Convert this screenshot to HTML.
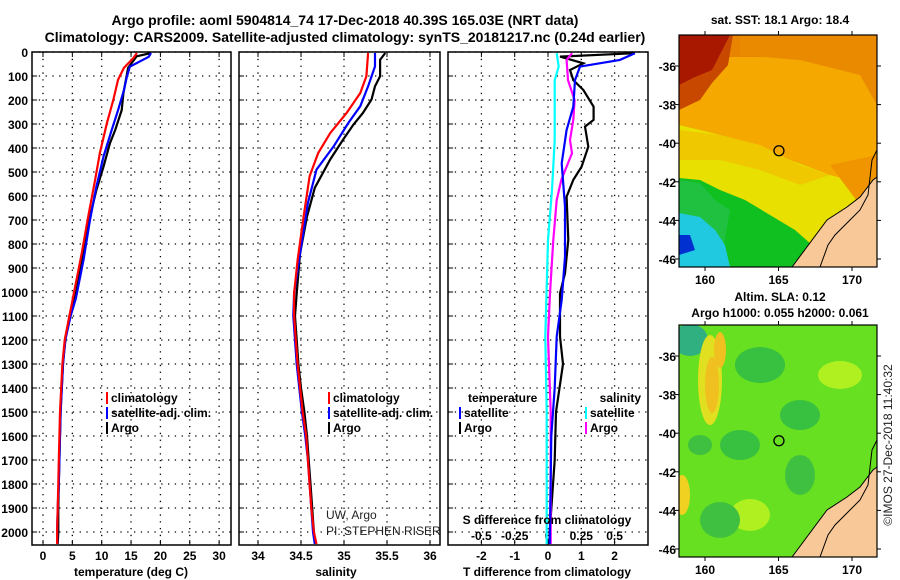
<!DOCTYPE html>
<html><head><meta charset="utf-8">
<style>
html,body{margin:0;padding:0;background:#fff;}
svg{display:block;font-family:"Liberation Sans",sans-serif;}
.b{font-weight:bold;font-size:12px;fill:#000;}
.t{font-weight:bold;font-size:14px;fill:#000;}
.n{font-weight:normal;font-size:12px;fill:#222;}
</style></head><body>
<svg id="chart" width="900" height="580" viewBox="0 0 900 580" xmlns="http://www.w3.org/2000/svg">
<text class="t" x="345" y="25" text-anchor="middle">Argo profile: aoml 5904814_74 17-Dec-2018 40.39S 165.03E (NRT data)</text>
<text class="t" x="345" y="42" text-anchor="middle">Climatology: CARS2009. Satellite-adjusted climatology: synTS_20181217.nc (0.24d earlier)</text>
<g id="plots"></g>
<g id="maps"></g>
</svg>
<script>
// ---- data ----
const tempArgoDepth=[4,18,66,172,242,325,381,478,575,686,839,992,1100,1200,1300,1400,1500,1600,1700,1800,1900,2000,2050];
const tempArgo=[18.4,15.95,14.5,13.7,13.4,12.3,11.4,10.3,9.1,8.0,6.9,5.7,4.5,3.8,3.4,3.2,3.0,2.9,2.8,2.7,2.6,2.6,2.5];
const tempClimDepth=[4,25,66,115,198,295,420,531,686,839,1026,1100,1200,1300,1400,1500,1600,1700,1800,1900,2000,2050];
const tempClim=[16.0,15.4,13.8,12.8,12.0,10.9,9.7,8.9,7.7,6.6,5.1,4.5,3.7,3.3,3.1,2.9,2.8,2.7,2.6,2.5,2.4,2.4];
const tempSatDepth=[4,20,61,103,158,242,325,436,561,700,867,1026,1100,1200,1300,1400,1500,1600,1700,1800,1900,2000,2050];
const tempSat=[18.4,18.0,14.8,14.3,13.8,12.8,11.7,10.3,9.1,8.0,6.9,5.6,4.7,3.8,3.4,3.2,3.0,2.9,2.8,2.7,2.5,2.4,2.4];
const salArgoDepth=[4,32,101,143,198,254,302,365,448,566,686,839,1006,1100,1200,1300,1400,1500,1600,1700,1800,1900,2000,2050];
const salArgo=[35.48,35.42,35.42,35.36,35.32,35.22,35.11,34.99,34.84,34.66,34.57,34.49,34.45,34.43,34.45,34.47,34.5,34.54,34.57,34.59,34.61,34.63,34.65,34.67];
const salClimDepth=[4,101,171,254,338,421,518,686,867,1006,1100,1200,1300,1400,1500,1600,1700,1800,1900,2000,2050];
const salClim=[35.28,35.26,35.19,35.03,34.84,34.70,34.60,34.53,34.46,34.42,34.42,34.44,34.46,34.49,34.52,34.56,34.58,34.6,34.62,34.65,34.68];
const salSatDepth=[4,60,143,226,296,393,490,629,839,1006,1100,1200,1300,1400,1500,1600,1700,1800,1900,2000,2050];
const salSat=[35.36,35.36,35.28,35.19,35.05,34.88,34.68,34.58,34.49,34.42,34.41,34.43,34.45,34.48,34.51,34.55,34.58,34.6,34.62,34.64,34.66];
const dTArgoDepth=[5,19,47,75,117,158,228,283,311,394,478,533,603,783,922,1006,1186,1300,1500,1700,2000,2050];
const dTArgo=[2.61,0.36,1.06,0.66,0.76,1.06,1.37,1.37,1.11,1.21,1.01,0.76,0.56,0.61,0.51,0.36,0.36,0.45,0.24,0.2,0.05,0.05];
const dTSatDepth=[5,33,61,117,228,325,464,644,853,1033,1186,1400,1600,2050];
const dTSat=[2.61,2.16,0.96,0.81,0.76,0.56,0.41,0.51,0.51,0.41,0.26,0.2,0.1,0.05];
const dSArgoDepth=[5,33,117,200,283,367,422,533,617,783,1006,1186,1500,2050];
const dSArgo=[0.18,0.14,0.15,0.20,0.19,0.165,0.18,0.10,0.065,0.04,0.015,0.0,0.02,0.02];
const dSSatDepth=[5,61,117,367,575,783,1186,1500,2050];
const dSSat=[0.065,0.08,0.05,0.05,0.03,0.0,-0.02,-0.01,-0.01];
const depthTicks=[0,100,200,300,400,500,600,700,800,900,1000,1100,1200,1300,1400,1500,1600,1700,1800,1900,2000];
const tempTicks=[0,5,10,15,20,25,30];
const salTicks=[34,34.5,35,35.5,36];
const salTickLabels=["34","34.5","35","35.5","36"];
const dTTicks=[-2,-1,0,1,2];
const dSTicks=[-0.5,-0.25,0,0.25,0.5];
const dSTickLabels=["-0.5","-0.25","0","0.25","0.5"];
const latTicks=[-36,-38,-40,-42,-44,-46];
const lonTicks=[160,165,170];
const argoLon=165.03, argoLat=-40.39;

// ---- scales ----
const yTop=52,yBot=545;
const yD=d=>yTop+d*0.24;
const xT=v=>43+5.87*v;
const xS=v=>258+86*(v-34);
const xDT=v=>548+33.3*v;
const xDS=v=>548+33.3*4*v;
const NS="http://www.w3.org/2000/svg";
const plots=document.getElementById('plots');
const maps=document.getElementById('maps');
function mk(tag,attrs,parent){const e=document.createElementNS(NS,tag);for(const k in attrs)e.setAttribute(k,attrs[k]);(parent||plots).appendChild(e);return e;}
function txt(s,x,y,cls,anchor,parent){const e=mk('text',{x:x,y:y,'class':cls||'b','text-anchor':anchor||'middle'},parent);e.textContent=s;return e;}

const panels=[[32,231,'temperature-panel'],[239,440,'salinity-panel'],[448,648,'difference-panel']];
panels.forEach(p=>{
  const g=mk('g',{});
  
  
  depthTicks.forEach(d=>{
    const l=mk('line',{x1:p[0],x2:p[1],y1:yD(d),y2:yD(d),stroke:'#000','stroke-width':1.3,'stroke-dasharray':'1.3 5.5'},g);
    
    
    mk('line',{x1:p[0],x2:p[0]+5,y1:yD(d),y2:yD(d),stroke:'#000'},g);
  });
});
function vgrid(xs,p){xs.forEach(x=>{
  const l=mk('line',{x1:x,x2:x,y1:yTop,y2:yBot,stroke:'#000','stroke-width':1.3,'stroke-dasharray':'1.3 5.5'});
  
  
  mk('line',{x1:x,x2:x,y1:yBot,y2:yBot-5,stroke:'#000'});
  mk('line',{x1:x,x2:x,y1:yTop,y2:yTop+5,stroke:'#000'});
});}
vgrid(tempTicks.map(xT));vgrid(salTicks.map(xS));vgrid(dTTicks.map(xDT));

depthTicks.forEach(d=>{const t=txt(String(d),28,yD(d)+5,'b','end');

});
tempTicks.forEach(v=>{const t=txt(String(v),xT(v),560);

});
salTicks.forEach((v,i)=>{const t=txt(salTickLabels[i],xS(v),560);

});
dTTicks.forEach(v=>{const t=txt(String(v),xDT(v),560);

});
dSTicks.forEach((v,i)=>{const t=txt(dSTickLabels[i],xDS(v),540);

});

function line(xs,ds,xf,color,name){
  const pts=xs.map((v,i)=>xf(v).toFixed(1)+','+yD(ds[i]).toFixed(1)).join(' ');
  const l=mk('polyline',{points:pts,fill:'none',stroke:color,'stroke-width':2.2});
  
  
}
line(tempArgo,tempArgoDepth,xT,'#000','temp-argo-line');
line(tempSat,tempSatDepth,xT,'#0000ff','temp-satellite-line');
line(tempClim,tempClimDepth,xT,'#ff0000','temp-climatology-line');
line(salArgo,salArgoDepth,xS,'#000','salinity-argo-line');
line(salSat,salSatDepth,xS,'#0000ff','salinity-satellite-line');
line(salClim,salClimDepth,xS,'#ff0000','salinity-climatology-line');
line(dSSat,dSSatDepth,xDS,'#00ffff','s-diff-satellite-line');
line(dTArgo,dTArgoDepth,xDT,'#000','t-diff-argo-line');
line(dSArgo,dSArgoDepth,xDS,'#ff00ff','s-diff-argo-line');
line(dTSat,dTSatDepth,xDT,'#0000ff','t-diff-satellite-line');

panels.forEach(p=>{const r=mk('rect',{x:p[0],y:yTop,width:p[1]-p[0],height:yBot-yTop,fill:'none',stroke:'#000','stroke-width':1.5});

});

function legend(x,y,color,label,name){
  const g=mk('g',{});
  
  
  mk('rect',{x:x,y:y-10,width:2,height:12,fill:color},g);
  txt(label,x+5,y,'b','start',g);
}
legend(106,402,'#ff0000','climatology','legend-climatology');
legend(106,417,'#0000ff','satellite-adj. clim.','legend-satellite');
legend(106,432,'#000','Argo','legend-argo');
legend(328,402,'#ff0000','climatology','legend-sal-climatology');
legend(328,417,'#0000ff','satellite-adj. clim.','legend-sal-satellite');
legend(328,432,'#000','Argo','legend-sal-argo');
txt('temperature',468,402,'b','start');
legend(459,417,'#0000ff','satellite','legend-t-satellite');
legend(459,432,'#000','Argo','legend-t-argo');
txt('salinity',641,402,'b','end');
legend(585,417,'#00ffff','satellite','legend-s-satellite');
legend(585,432,'#ff00ff','Argo','legend-s-argo');
txt('S difference from climatology',547,524);
txt('temperature (deg C)',131,576);
txt('salinity',336,576);
txt('T difference from climatology',547,576);
txt('UW, Argo',326,519,'n','start');
txt('PI: STEPHEN RISER',326,535,'n','start');

// ---- maps ----
const mapL=679,mapR=877;
const lx=lon=>705+14.7*(lon-160);
function drawMap(top,bot,yLat,kind,titles){
  const g=mk('g',{},maps);
  
  
  const cid='clip'+kind;
  const cp=mk('clipPath',{id:cid},g);mk('rect',{x:mapL,y:top,width:mapR-mapL,height:bot-top},cp);
  const c=mk('g',{'clip-path':'url(#'+cid+')'},g);
  const P=(pts,fill)=>mk('polygon',{points:pts.map(p=>p[0]+','+(top+p[1])).join(' '),fill:fill},c);
  const E=(cx,cy,rx,ry,fill)=>mk('ellipse',{cx:cx,cy:top+cy,rx:rx,ry:ry,fill:fill},c);
  if(kind==='sst'){
    mk('rect',{x:mapL,y:top,width:200,height:bot-top,fill:'#f4a800'},c);
    mk('rect',{x:mapL,y:top,width:200,height:22,fill:'#e88400'},c);
    P([[740,0],[877,0],[877,70],[860,40],[800,25],[740,20]],'#ea8a00');
    P([[679,0],[733,0],[728,30],[712,48],[700,65],[679,75]],'#c84800');
    P([[679,0],[730,0],[712,35],[695,42],[679,50]],'#a81800');
    P([[679,90],[700,95],[740,105],[790,125],[830,140],[860,148],[877,140],[877,232],[679,232]],'#e8e000');
    P([[679,95],[720,100],[760,110],[800,130],[830,140],[800,150],[760,135],[720,125],[679,125]],'#f0c800');
    P([[830,130],[877,120],[877,160],[860,170],[845,150]],'#f09400');
    P([[679,143],[700,145],[720,155],[745,165],[770,180],[795,195],[812,210],[800,232],[679,232]],'#10c020');
    P([[679,145],[700,148],[715,165],[730,175],[720,232],[679,232]],'#20c040');
    P([[679,178],[700,182],[715,195],[725,210],[730,232],[679,232]],'#20c8e0');
    P([[679,200],[690,200],[695,215],[679,220]],'#0030d0');
    P([[860,200],[877,190],[877,232],[855,232]],'#10b040');
    P([[866,215],[877,210],[877,232],[860,232]],'#2040d0');
  } else {
    mk('rect',{x:mapL,y:top,width:200,height:bot-top,fill:'#66e020'},c);
    E(690,15,18,16,'#30b080');
    E(760,40,25,18,'#38c040');E(740,120,20,15,'#38c040');E(800,90,20,15,'#38c040');
    E(710,55,12,45,'#e0e020');E(712,60,7,28,'#f0c020');E(720,25,6,18,'#f0c020');
    E(682,170,8,20,'#f0d020');E(840,50,22,14,'#b0f020');E(750,190,20,16,'#b0f020');
    E(720,195,20,18,'#40c040');E(800,150,15,20,'#40c040');E(700,120,12,10,'#40c040');
  }
  P([[792,232],[827,185],[847,172],[860,162],[873,145],[877,142],[877,232]],'#f8c898');
  mk('polyline',{points:[[792,232],[827,185],[847,172],[860,162],[873,145],[877,142]].map(p=>p[0]+','+(top+p[1])).join(' '),fill:'none',stroke:'#000','stroke-width':1},c);
  mk('polyline',{points:[[820,232],[828,210],[835,200],[847,188],[860,175],[868,160],[872,125],[877,115]].map(p=>p[0]+','+(top+p[1])).join(' '),fill:'none',stroke:'#000','stroke-width':1},c);
  const ar=mk('circle',{cx:lx(argoLon),cy:yLat(argoLat),r:5,fill:'none',stroke:'#000','stroke-width':1.3},g);
  
  
  mk('rect',{x:mapL,y:top,width:mapR-mapL,height:bot-top,fill:'none',stroke:'#000','stroke-width':1.2},g);
  latTicks.forEach(l=>{const y=yLat(l);
    mk('line',{x1:mapL-4,x2:mapL,y1:y,y2:y,stroke:'#000'},g);mk('line',{x1:mapR,x2:mapR+4,y1:y,y2:y,stroke:'#000'},g);
    const t=txt(String(l),676,y+5,'b','end',g);
    
    });
  lonTicks.forEach(l=>{const x=lx(l);
    mk('line',{x1:x,x2:x,y1:top-4,y2:top,stroke:'#000'},g);mk('line',{x1:x,x2:x,y1:bot,y2:bot+4,stroke:'#000'},g);
    const t=txt(String(l),x,bot+17,'b','middle',g);
    
    });
  titles.forEach((s,i)=>txt(s.t,780,s.y,'b','middle',g));
}
drawMap(35,267,l=>66+19.3*(-36-l),'sst',[{t:'sat. SST: 18.1 Argo: 18.4',y:24}]);
drawMap(325,557,l=>356+19.3*(-36-l),'sla',[{t:'Altim. SLA: 0.12',y:301},{t:'Argo h1000: 0.055 h2000: 0.061',y:317}]);
const cr=txt('©IMOS 27-Dec-2018 11:40:32',0,0,'n','middle',maps);
cr.setAttribute('transform','translate(892,445) rotate(-90)');


</script>
</body></html>
